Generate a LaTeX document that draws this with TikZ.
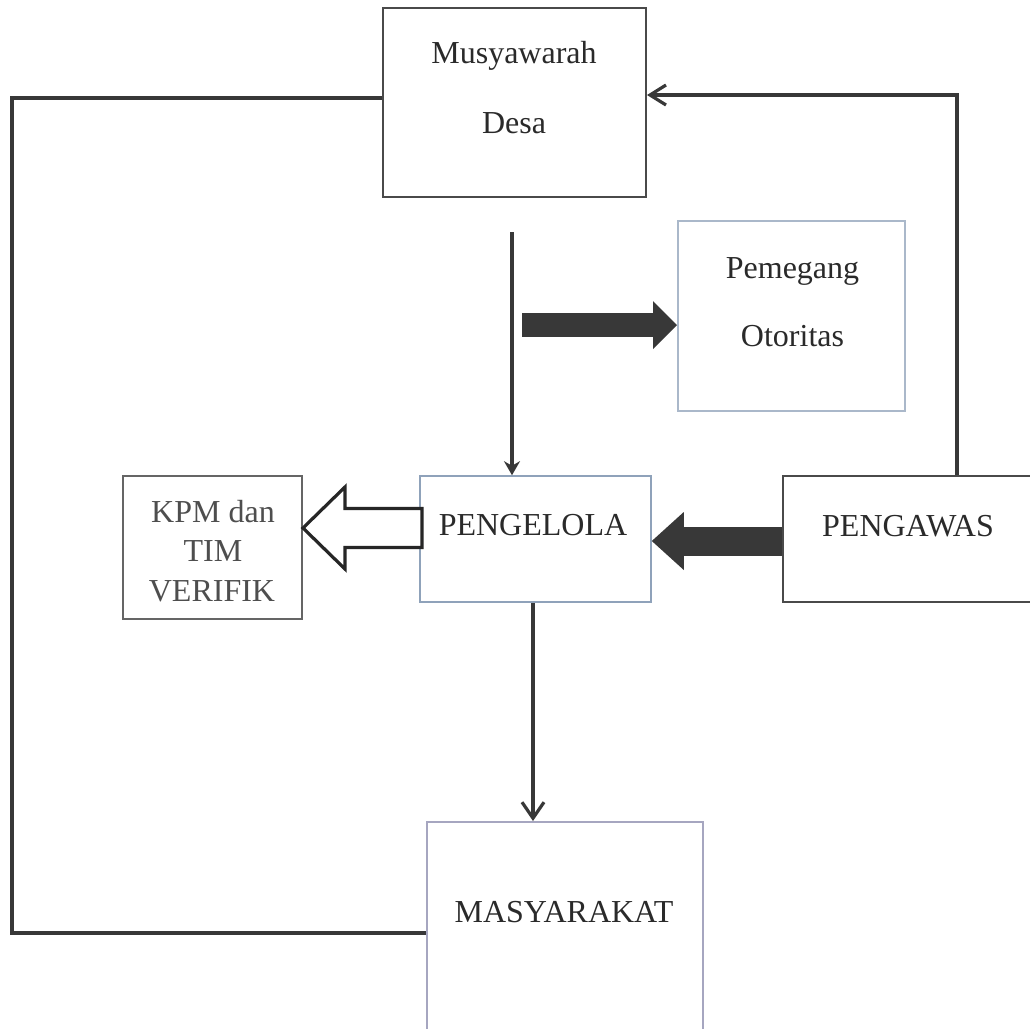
\documentclass[tikz,border=0pt]{standalone}
\usepackage{fontspec}
\setmainfont{Liberation Serif}
\usetikzlibrary{arrows.meta}
\definecolor{lineDark}{HTML}{383838}
\definecolor{textDark}{HTML}{2A2A2A}
\definecolor{textGrey}{HTML}{4E4E4E}
\definecolor{frameDark}{HTML}{4A4A4A}
\definecolor{frameBlue}{HTML}{AAB8CA}
\definecolor{frameSteel}{HTML}{8FA2BA}
\definecolor{frameLilac}{HTML}{A6A6C0}

\begin{document}
\begin{tikzpicture}[x=0.5pt,y=-0.5pt,
  boxFrame/.style={draw=frameDark, line width=1pt, inner sep=0pt},
  boxText/.style={font={\fontsize{16}{16}\selectfont}, text=textDark, anchor=base, inner sep=0pt},
  linkLine/.style={color=lineDark, line width=1.6pt},
  hollowArrow/.style={draw=black!85, line width=1.6pt, fill=white, line join=miter}]
\useasboundingbox[fill=white] (0,0) rectangle (1030,1029);
\node[boxFrame, minimum width=131.5pt, minimum height=94.5pt] (musDesa) at (514.5,102.5) {};
\node[boxFrame, draw=frameBlue, minimum width=113.5pt, minimum height=95pt] (otoritas) at (791.5,316) {};
\node[boxFrame, draw=frameDark!85, minimum width=89.5pt, minimum height=71.5pt] (kpm) at (212.5,547.5) {};
\node[boxFrame, draw=frameSteel, line width=0.8pt, minimum width=115.5pt, minimum height=63pt] (pengelola) at (535.5,539) {};
\node[boxFrame, minimum width=131pt, minimum height=63pt] (pengawas) at (914,539) {};
\node[boxFrame, draw=frameLilac, minimum width=138pt, minimum height=111pt] (masyarakat) at (565,933) {};
\node[boxText] (musDesaTop) at (514,63) {Musyawarah};
\node[boxText] (musDesaBot) at (514,133) {Desa};
\node[boxText] (otoritasTop) at (792.5,278) {Pemegang};
\node[boxText] (otoritasBot) at (792.5,346) {Otoritas};
\node[boxText, text=textGrey] (kpmLineA) at (213,522) {KPM dan};
\node[boxText, text=textGrey] (kpmLineB) at (213,561) {TIM};
\node[boxText, text=textGrey] (kpmLineC) at (212,601) {VERIFIK};
\node[boxText] (pengelolaText) at (533,535) {PENGELOLA};
\node[boxText] (pengawasText) at (908,536) {PENGAWAS};
\node[boxText] (masyarakatText) at (564,922) {MASYARAKAT};
% connectors
\coordinate (leftRail) at (12,98);
\draw[linkLine, line width=2pt] (leftRail -| musDesa.west) -- (leftRail) |- (masyarakat.west);
\coordinate (rightRail) at (957,95);
\draw[linkLine, -{Straight Barb[length=8pt,width=10pt]}] (rightRail |- pengawas.north) -- (rightRail) -- (rightRail -| musDesa.east);
\coordinate (musFoot) at (512,232);
\draw[linkLine, -{Stealth[length=7pt,width=8pt]}] (musFoot) -- (musFoot |- pengelola.north);
\coordinate (otorTail) at (522,325);
\draw[color=lineDark, line width=12pt, -{Triangle[length=12pt,width=24pt,line width=0pt]}] (otorTail) -- (otorTail -| otoritas.west);
\draw[color=lineDark, line width=14.5pt, -{Triangle[length=16pt,width=29pt,line width=0pt]}] ([yshift=-1pt]pengawas.west) -- ([yshift=-1pt]pengelola.east);
\coordinate (kpmTip) at (kpm.east |- 0,528);
\draw[hollowArrow] (kpmTip) -- ++(42,-41) -- ++(0,21.5) -- ++(77,0) -- ++(0,39) -- ++(-77,0) -- ++(0,21.5) -- cycle;
\draw[linkLine, -{Straight Barb[length=8pt,width=11pt]}] ([xshift=-1.25pt]pengelola.south) -- ([xshift=-1.25pt]pengelola.south |- masyarakat.north);
\end{tikzpicture}
\end{document}
